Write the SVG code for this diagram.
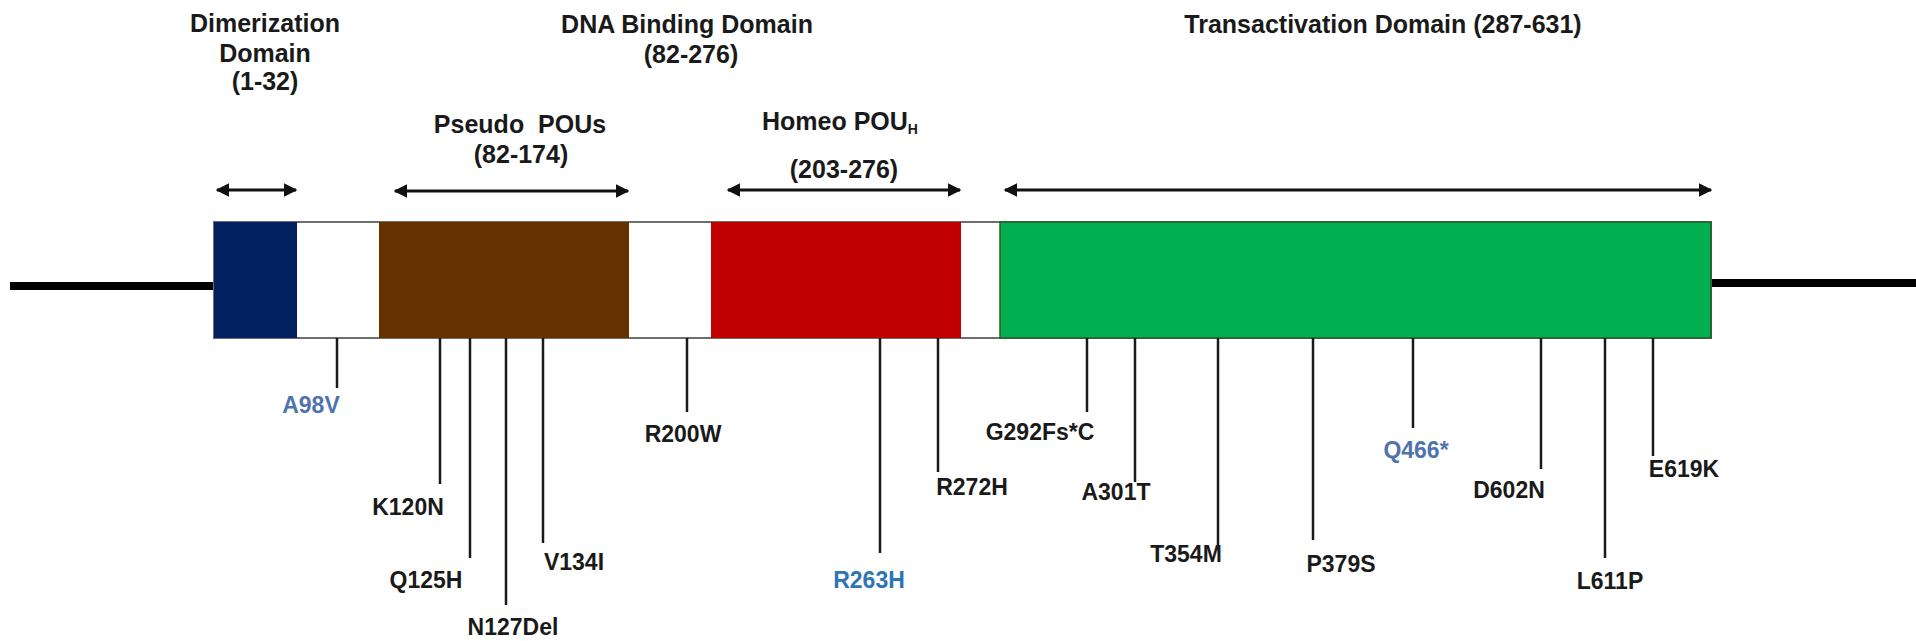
<svg xmlns="http://www.w3.org/2000/svg" width="1916" height="641" viewBox="0 0 1916 641">
<style>
  text { font-family: "Liberation Sans", Arial, sans-serif; font-weight: bold; fill: #1a1a1a; }
  .title { font-size: 25px; text-anchor: middle; }
  .lbl { font-size: 23px; text-anchor: middle; }
  .blue1 { fill: #5073ad; }
  .blue2 { fill: #2e75b6; }
  .stem { stroke: #1a1a1a; stroke-width: 2.5; fill: none; }
  .arrow { stroke: #111; stroke-width: 3; fill: none; marker-start: url(#ah); marker-end: url(#ah); }
  .backbone { stroke: #000; stroke-width: 8; }
</style>
<defs>
  <marker id="ah" viewBox="0 0 10 10" refX="9" refY="5" markerWidth="4.5" markerHeight="4.5" orient="auto-start-reverse" markerUnits="strokeWidth">
    <path d="M0,0 L10,5 L0,10 z" fill="#111"/>
  </marker>
</defs>
<rect width="1916" height="641" fill="#fff"/>

<g id="backbone">
  <line class="backbone" x1="10" y1="286" x2="214" y2="286"/>
  <line class="backbone" x1="1711" y1="283" x2="1916" y2="283"/>
</g>

<g id="protein">
  <rect x="214" y="222" width="1497" height="116" fill="#fff" stroke="#6e6e6e" stroke-width="2"/>
  <rect id="dimerization" x="214" y="222" width="83" height="116" fill="#002060"/>
  <rect id="pseudo-pou" x="379" y="222" width="250" height="116" fill="#663300"/>
  <rect id="homeo-pou" x="711" y="222" width="250" height="116" fill="#c00000"/>
  <rect id="transactivation" x="1000" y="222" width="711" height="116" fill="#00b050" stroke="#2a5a2a" stroke-width="1.5"/>
</g>

<g id="domain-labels">
  <g id="t-dimer">
    <text class="title" x="265" y="32">Dimerization</text>
    <text class="title" x="265" y="62">Domain</text>
    <text class="title" x="265" y="90">(1-32)</text>
  </g>
  <g id="t-dna">
    <text class="title" x="687" y="33">DNA Binding Domain</text>
    <text class="title" x="691" y="63">(82-276)</text>
  </g>
  <g id="t-pseudo">
    <text class="title" x="520" y="133" xml:space="preserve">Pseudo  POUs</text>
    <text class="title" x="521" y="163">(82-174)</text>
  </g>
  <g id="t-homeo">
    <text x="762" y="130" style="font-size:25px">Homeo POU<tspan style="font-size:14px" dy="4">H</tspan></text>
    <text class="title" x="844" y="178">(203-276)</text>
  </g>
  <g id="t-trans">
    <text class="title" x="1383" y="33">Transactivation Domain (287-631)</text>
  </g>
</g>

<g id="connectors">
  <line class="arrow" x1="217" y1="190" x2="296" y2="190"/>
  <line class="arrow" x1="395" y1="191" x2="628" y2="191"/>
  <line class="arrow" x1="728" y1="190" x2="960" y2="190"/>
  <line class="arrow" x1="1005" y1="190" x2="1711" y2="190"/>
  <line class="stem" x1="337" y1="338" x2="337" y2="388"/>
  <line class="stem" x1="440" y1="338" x2="440" y2="484"/>
  <line class="stem" x1="470" y1="338" x2="470" y2="558"/>
  <line class="stem" x1="506" y1="338" x2="506" y2="605"/>
  <line class="stem" x1="543" y1="338" x2="543" y2="543"/>
  <line class="stem" x1="687" y1="338" x2="687" y2="412"/>
  <line class="stem" x1="880" y1="338" x2="880" y2="553"/>
  <line class="stem" x1="938" y1="338" x2="938" y2="472"/>
  <line class="stem" x1="1087" y1="338" x2="1087" y2="412"/>
  <line class="stem" x1="1135" y1="338" x2="1135" y2="482"/>
  <line class="stem" x1="1218" y1="338" x2="1218" y2="550"/>
  <line class="stem" x1="1313" y1="338" x2="1313" y2="540"/>
  <line class="stem" x1="1413" y1="338" x2="1413" y2="428"/>
  <line class="stem" x1="1541" y1="338" x2="1541" y2="469"/>
  <line class="stem" x1="1605" y1="338" x2="1605" y2="558"/>
  <line class="stem" x1="1653" y1="338" x2="1653" y2="456"/>
</g>

<g id="mutations">
  <text id="m-A98V" class="lbl blue1" x="311" y="413">A98V</text>
  <text id="m-K120N" class="lbl" x="408" y="515">K120N</text>
  <text id="m-Q125H" class="lbl" x="426" y="588">Q125H</text>
  <text id="m-N127Del" class="lbl" x="513" y="635">N127Del</text>
  <text id="m-V134I" class="lbl" x="574" y="570">V134I</text>
  <text id="m-R200W" class="lbl" x="683" y="442">R200W</text>
  <text id="m-R263H" class="lbl blue2" x="869" y="588">R263H</text>
  <text id="m-R272H" class="lbl" x="972" y="495">R272H</text>
  <text id="m-G292" class="lbl" x="1040" y="440">G292Fs*C</text>
  <text id="m-A301T" class="lbl" x="1116" y="500">A301T</text>
  <text id="m-T354M" class="lbl" x="1186" y="562">T354M</text>
  <text id="m-P379S" class="lbl" x="1341" y="572">P379S</text>
  <text id="m-Q466" class="lbl blue1" x="1416" y="458">Q466*</text>
  <text id="m-D602N" class="lbl" x="1509" y="498">D602N</text>
  <text id="m-L611P" class="lbl" x="1610" y="589">L611P</text>
  <text id="m-E619K" class="lbl" x="1684" y="477">E619K</text>
</g>
</svg>
